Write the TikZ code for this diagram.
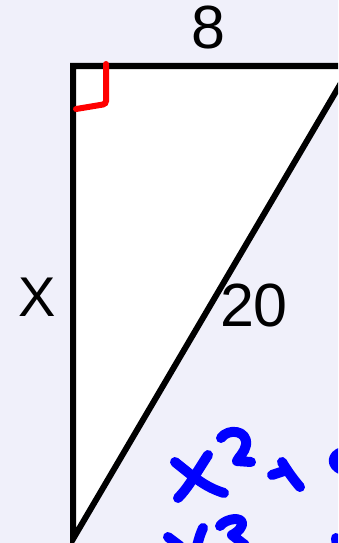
\documentclass[tikz,border=0pt]{standalone}
\usepackage{fontspec}
\setmainfont{Liberation Sans}
\usepackage{xcolor}
\definecolor{paper}{HTML}{F0F0FA}
\definecolor{ink}{HTML}{0000FF}
\definecolor{tick}{HTML}{FF0000}

\begin{document}
\begin{tikzpicture}[x=1pt, y=-1pt,
    hand/.style={ink, line width=10pt, line cap=round, line join=round},
    lbl/.style={inner sep=0pt, font=\fontsize{61}{61}\selectfont}]
  \useasboundingbox[fill=paper] (0,0) rectangle (338,543);
  \clip (0,0) rectangle (338,543);

  \coordinate (top) at (73,66);
  \coordinate (right) at (351,66);
  \coordinate (bottom) at (73,539);
  \draw[fill=white, line width=6pt] (top) -- (right) -- (bottom) -- cycle;
  \draw[tick, line width=6pt, line cap=round, rounded corners=3pt] (106,64) -- (106,104) -- (76,109);

  \node[lbl] (base) at (208,28) {8};
  \node[lbl, font=\fontsize{56}{56}\selectfont] (leg) at (37,297) {X};
  \node[lbl] (hyp) at (254,305) {20};

  % handwriting
  \draw[hand] (175,462) .. controls (195,478) and (205,487) .. (224,493);
  \draw[hand] (208,455) .. controls (195,475) and (188,488) .. (178,498);
  \draw[hand] (221,438) .. controls (228,428) and (248,430) .. (246,445) .. controls (245,452) and (238,458) .. (237,461) -- (251,462);
  \draw[hand] (272,475) -- (284,471);
  \draw[hand] (282,462) .. controls (288,472) and (294,480) .. (300,487);
  \draw[hand] (342,452) .. controls (332,455) and (330,465) .. (342,470);
  \draw[hand] (168,537) -- (180,546);
  \draw[hand] (203,528) .. controls (200,535) .. (197,546);
  \draw[hand] (220,526) .. controls (226,518) and (244,516) .. (242,525) .. controls (240,531) and (234,534) .. (232,535) -- (245,545);
  \draw[hand] (336,538) -- (337,546);
\end{tikzpicture}
\end{document}
